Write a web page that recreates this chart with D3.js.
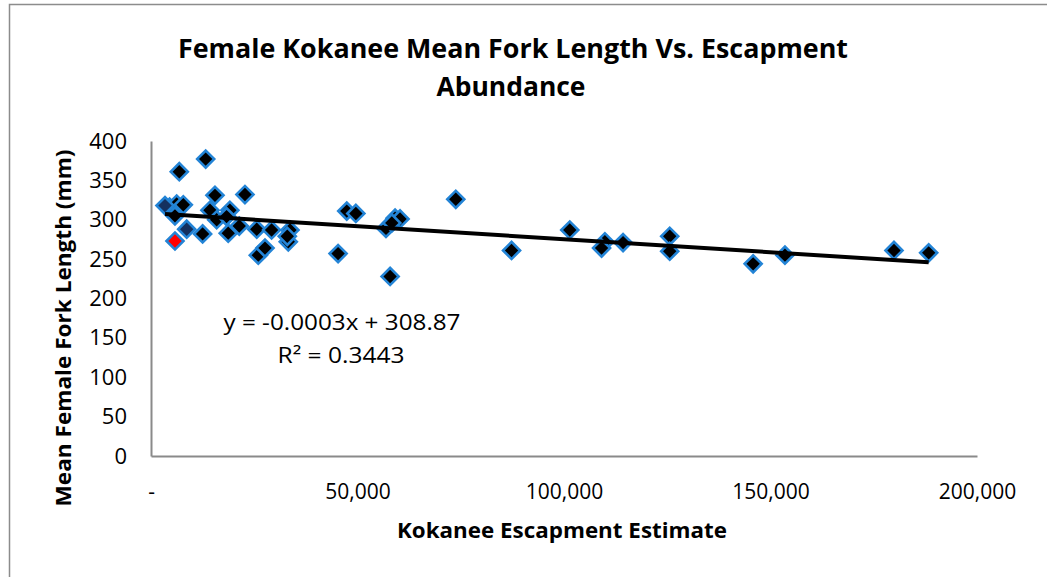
<!DOCTYPE html>
<html>
<head>
<meta charset="utf-8">
<script src="https://cdn.jsdelivr.net/npm/d3@7/dist/d3.min.js"></script>
<style>
html,body{margin:0;padding:0;background:#fff;}
svg{display:block;}
text{font-family:"Open Sans",sans-serif;fill:#000;}
</style>
</head>
<body>
<svg id="chart" width="1047" height="577"></svg>
<script>
// ---- data ----
const escapement = [13240, 6850, 4500, 6220, 7820, 5800, 15490, 22750, 14280, 15900,
  19100, 18300, 12500, 18700, 21370, 25600, 25980, 29200, 33650, 33240,
  27600, 33000, 47400, 49600, 45300, 56900, 59100, 60300, 58300, 57900,
  73800, 87300, 101400, 109900, 109100, 114300, 125600, 125600, 145800, 153500,
  179900, 188300];
const forkLength = [377, 361, 316, 320, 319, 305, 331, 332, 312, 300,
  312, 304, 282, 283, 292, 288, 255, 287, 287, 272,
  264, 279, 311, 308, 257, 289, 302, 301, 296, 228,
  326, 261, 287, 272, 264, 271, 279, 260, 244, 255,
  261, 258];
// points drawn with a dark navy fill
const navyEscapement = [3390, 8640];
const navyLength = [318, 288];
// highlighted (red) point
const redEscapement = [5810];
const redLength = [273];

const xTicks = [0, 50000, 100000, 150000, 200000];
const yTicks = [0, 50, 100, 150, 200, 250, 300, 350, 400];
const titleLines = ["Female Kokanee Mean Fork Length Vs. Escapment", "Abundance"];
const xTitle = "Kokanee Escapment Estimate";
const yTitle = "Mean Female Fork Length (mm)";
const eqText = "y = -0.0003x + 308.87";
const r2Text = "R² = 0.3443";

// ---- layout ----
const svg = d3.select("#chart");
const x = d3.scaleLinear().domain([0, 200000]).range([151, 977]);
const y = d3.scaleLinear().domain([0, 400]).range([456, 141]);

// outer border
svg.append("rect").attr("x", 9.5).attr("y", 4.5).attr("width", 1060).attr("height", 600)
  .attr("fill", "none").attr("stroke", "#8c8c8c").attr("stroke-width", 1.5);

// title
svg.append("text").attr("x", 513).attr("y", 58).attr("text-anchor", "middle")
  .attr("font-size", 27).attr("font-weight", "bold")
  .attr("textLength", 670).attr("lengthAdjust", "spacingAndGlyphs").text(titleLines[0]);
svg.append("text").attr("x", 511).attr("y", 96).attr("text-anchor", "middle")
  .attr("font-size", 27).attr("font-weight", "bold")
  .attr("textLength", 149).attr("lengthAdjust", "spacingAndGlyphs").text(titleLines[1]);

// axes
const xAxis = d3.axisBottom(x).tickValues(xTicks).tickSize(0).tickPadding(28)
  .tickFormat(d => d === 0 ? "-" : d3.format(",")(d));
const gx = svg.append("g").attr("transform", `translate(0,${y(0)})`).call(xAxis);
gx.select(".domain").attr("stroke", "#8a8a8a").attr("stroke-width", 2);
gx.selectAll("text").attr("font-size", 21).attr("font-family", "Open Sans");

const yAxis = d3.axisLeft(y).tickValues(yTicks).tickSize(0).tickPadding(24);
const gy = svg.append("g").attr("transform", `translate(${x(0)},0)`).call(yAxis);
gy.select(".domain").attr("stroke", "#8a8a8a").attr("stroke-width", 2);
gy.selectAll("text").attr("font-size", 22).attr("font-family", "Open Sans");

// axis titles
svg.append("text").attr("x", 562).attr("y", 538).attr("text-anchor", "middle")
  .attr("font-size", 21).attr("font-weight", "bold")
  .attr("textLength", 330).attr("lengthAdjust", "spacingAndGlyphs").text(xTitle);
svg.append("text").attr("transform", "translate(71,328) rotate(-90)").attr("text-anchor", "middle")
  .attr("font-size", 21).attr("font-weight", "bold")
  .attr("textLength", 357).attr("lengthAdjust", "spacingAndGlyphs").text(yTitle);

// markers
const diamond = d3.symbol().type(d3.symbolSquare).size(145)();
function drawPoints(xs, ys, fill) {
  svg.append("g").selectAll("path").data(xs.map((v, i) => [v, ys[i]])).join("path")
    .attr("d", diamond)
    .attr("transform", d => `translate(${x(d[0])},${y(d[1])}) rotate(45)`)
    .attr("fill", fill).attr("stroke", "#2384d6").attr("stroke-width", 2.6);
}
drawPoints(escapement, forkLength, "#000");
drawPoints(navyEscapement, navyLength, "#14305e");
drawPoints(redEscapement, redLength, "#ff0000");

// linear trend line (least squares over all points)
const allX = escapement.concat(navyEscapement, redEscapement);
const allY = forkLength.concat(navyLength, redLength);
const mx = d3.mean(allX), my = d3.mean(allY);
let sxy = 0, sxx = 0;
allX.forEach((v, i) => { sxy += (v - mx) * (allY[i] - my); sxx += (v - mx) * (v - mx); });
const slope = sxy / sxx, intercept = my - slope * mx;
const [x0, x1] = d3.extent(allX);
svg.append("line")
  .attr("x1", x(x0)).attr("y1", y(intercept + slope * x0))
  .attr("x2", x(x1)).attr("y2", y(intercept + slope * x1))
  .attr("stroke", "#000").attr("stroke-width", 4);

// equation labels
svg.append("text").attr("x", 342).attr("y", 330).attr("text-anchor", "middle")
  .attr("font-size", 21).attr("textLength", 237).attr("lengthAdjust", "spacingAndGlyphs").text(eqText);
svg.append("text").attr("x", 341).attr("y", 363).attr("text-anchor", "middle")
  .attr("font-size", 21).attr("textLength", 127).attr("lengthAdjust", "spacingAndGlyphs").text(r2Text);
</script>
</body>
</html>
